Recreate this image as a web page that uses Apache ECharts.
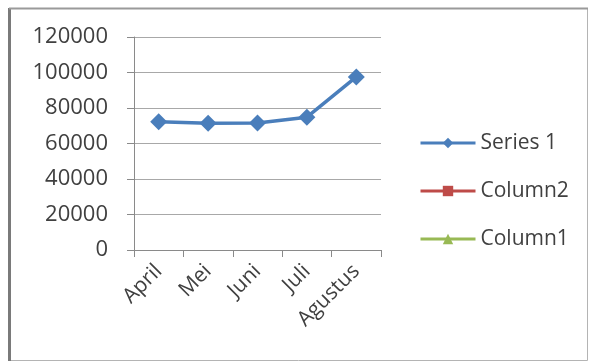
<!DOCTYPE html>
<html>
<head>
<meta charset="utf-8">
<script src="https://cdn.jsdelivr.net/npm/echarts@6/dist/echarts.min.js"></script>
<style>
  html, body { margin: 0; padding: 0; background: #fff; }
  #chart { width: 590px; height: 362px; }
</style>
</head>
<body>
<div id="chart"></div>
<script>
// Monthly values (April – Agustus)
const categories = ['April', 'Mei', 'Juni', 'Juli', 'Agustus'];
const series1 = [72300, 71400, 71500, 74800, 97500];
const column2 = [null, null, null, null, null];
const column1 = [null, null, null, null, null];
const seriesNames = ['Series 1', 'Column2', 'Column1'];
const yTicks = [0, 20000, 40000, 60000, 80000, 100000, 120000];

const FONT = 'Open Sans';
const TEXT = '#404040';

const chart = echarts.init(document.getElementById('chart'), null, { renderer: 'canvas' });

chart.setOption({
  animation: false,
  backgroundColor: '#ffffff',
  graphic: [
    { type: 'rect', shape: { x: 9.5, y: 8.5, width: 578, height: 352 },
      style: { fill: 'none', stroke: '#b4b4b4', lineWidth: 1 } },
    { type: 'line', shape: { x1: 9.5, y1: 8, x2: 9.5, y2: 361 },
      style: { stroke: '#7a7a7a', lineWidth: 3 } },
    { type: 'line', shape: { x1: 9, y1: 8.5, x2: 588, y2: 8.5 },
      style: { stroke: '#9a9a9a', lineWidth: 2 } }
  ],
  grid: { left: 134, right: 209, top: 37, bottom: 112, containLabel: false },
  legend: {
    orient: 'vertical',
    left: 414,
    top: 127,
    itemWidth: 55,
    itemHeight: 13,
    itemGap: 26,
    lineStyle: { width: 3 },
    textStyle: { fontFamily: FONT, fontSize: 21, color: TEXT, lineHeight: 22 },
    data: seriesNames
  },
  xAxis: {
    type: 'category',
    data: categories,
    boundaryGap: true,
    axisLine: { lineStyle: { color: '#8a8a8a', width: 1 } },
    axisTick: { show: true, length: 7, lineStyle: { color: '#8a8a8a' } },
    axisLabel: {
      rotate: 45, margin: 18,
      fontFamily: FONT, fontSize: 21, color: TEXT
    },
    splitLine: { show: false }
  },
  yAxis: {
    type: 'value',
    min: yTicks[0],
    max: yTicks[yTicks.length - 1],
    interval: yTicks[1] - yTicks[0],
    axisLine: { show: true, lineStyle: { color: '#8a8a8a', width: 1 } },
    axisTick: { show: true, length: 7, lineStyle: { color: '#8a8a8a' } },
    axisLabel: {
      margin: 26, fontFamily: FONT, fontSize: 22, color: TEXT,
      formatter: v => String(v)
    },
    splitLine: { show: true, lineStyle: { color: '#a8a8a8', width: 1 } }
  },
  series: [
    {
      name: seriesNames[0], type: 'line', data: series1,
      symbol: 'diamond', symbolSize: 17,
      lineStyle: { color: '#4a7ebb', width: 3.5 },
      itemStyle: { color: '#4a7ebb' }
    },
    {
      name: seriesNames[1], type: 'line', data: column2,
      symbol: 'rect', symbolSize: 12,
      lineStyle: { color: '#be4b48', width: 3.5 },
      itemStyle: { color: '#be4b48' }
    },
    {
      name: seriesNames[2], type: 'line', data: column1,
      symbol: 'triangle', symbolSize: 12,
      lineStyle: { color: '#98b954', width: 3.5 },
      itemStyle: { color: '#98b954' }
    }
  ]
});
</script>
</body>
</html>
